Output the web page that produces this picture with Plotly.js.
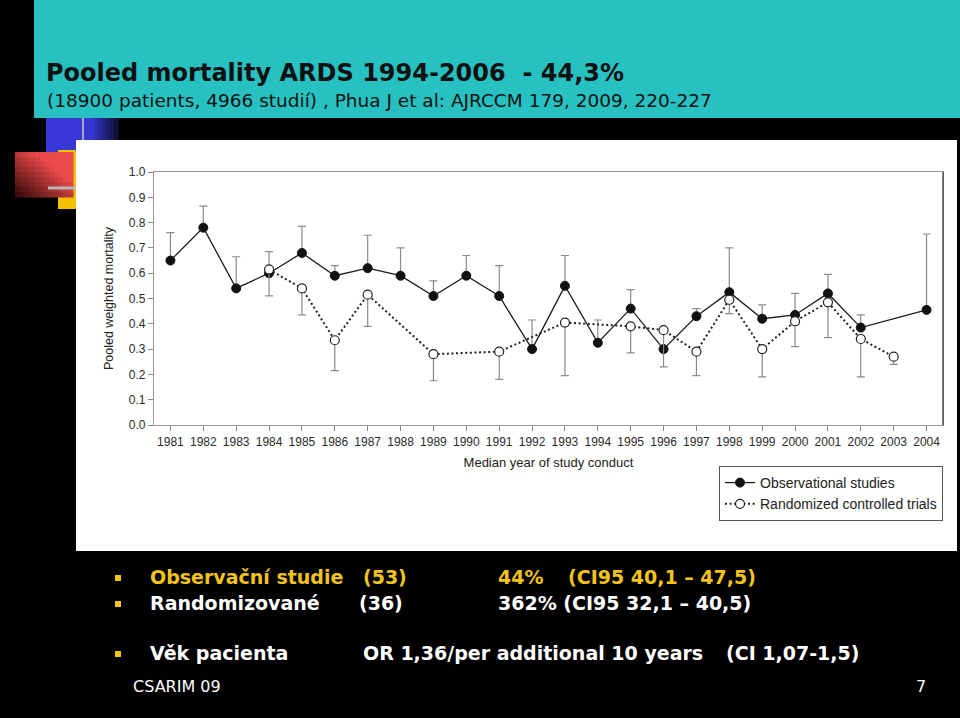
<!DOCTYPE html>
<html>
<head>
<meta charset="utf-8">
<script src="https://cdn.plot.ly/plotly-3.0.1.min.js"></script>
<style>
  html, body { margin: 0; padding: 0; background: #000; }
  #chart { width: 960px; height: 718px; }
</style>
</head>
<body>
<div id="chart"></div>
<script>
// ---------- Data ----------
const obsYears = [1981, 1982, 1983, 1984, 1985, 1986, 1987, 1988, 1989, 1990, 1991, 1992,
                  1993, 1994, 1995, 1996, 1997, 1998, 1999, 2000, 2001, 2002, 2004];
const obsMortality = [0.65, 0.78, 0.54, 0.60, 0.68, 0.59, 0.62, 0.59, 0.51, 0.59, 0.51, 0.30,
                      0.55, 0.325, 0.46, 0.30, 0.43, 0.525, 0.42, 0.435, 0.52, 0.385, 0.455];
const obsUpperCI = [0.76, 0.865, 0.665, 0.685, 0.785, 0.63, 0.75, 0.70, 0.57, 0.67, 0.63, 0.415,
                    0.67, 0.415, 0.535, 0.30, 0.46, 0.70, 0.475, 0.52, 0.595, 0.435, 0.755];

const rctYears = [1984, 1985, 1986, 1987, 1989, 1991, 1993, 1995, 1996, 1997, 1998, 1999,
                  2000, 2001, 2002, 2003];
const rctMortality = [0.615, 0.54, 0.335, 0.515, 0.28, 0.29, 0.405, 0.39, 0.375, 0.29, 0.495, 0.30,
                      0.41, 0.485, 0.34, 0.27];
const rctLowerCI = [0.51, 0.435, 0.215, 0.39, 0.175, 0.18, 0.195, 0.285, 0.23, 0.195, 0.44, 0.19,
                    0.31, 0.345, 0.19, 0.24];

const seriesNames = ['Observational studies', 'Randomized controlled trials'];
const yTickVals = [0, 0.1, 0.2, 0.3, 0.4, 0.5, 0.6, 0.7, 0.8, 0.9, 1.0];

const slideTitle = 'Pooled mortality ARDS 1994-2006\u00A0\u00A0- 44,3%';
const slideSubtitle = '(18900 patients, 4966 studi\u00ED) , Phua J et al: AJRCCM 179, 2009, 220-227';
const xAxisTitle = 'Median year of study conduct';
const yAxisTitle = 'Pooled weighted mortality';

// ---------- Helpers (pixel -> paper) ----------
const W = 960, H = 718;
const px = x => x / W;
const py = y => 1 - y / H;

function rect(x0, y0, x1, y1, color) {
  return {type: 'rect', xref: 'paper', yref: 'paper', layer: 'below',
          x0: px(x0), x1: px(x1), y0: py(y1), y1: py(y0),
          line: {width: 0}, fillcolor: color};
}
function lerp(a, b, t) { return a.map((v, i) => Math.round(v + (b[i] - v) * t)); }
function rgb(c) { return 'rgb(' + c.join(',') + ')'; }

const shapes = [];
// blue decorative block with fade to black on the right
{
  const x0 = 46, x1 = 118, y0 = 118, y1 = 160, n = 18;
  for (let i = 0; i < n; i++) {
    const a = x0 + (x1 - x0) * i / n, b = x0 + (x1 - x0) * (i + 1) / n + 0.5;
    const f = (a - x0) / (x1 - x0);
    const t = f < 0.6 ? 0 : (f - 0.6) / 0.4;
    shapes.push(rect(a, y0, b, y1, rgb(lerp([56, 56, 214], [10, 10, 30], t))));
  }
}
// yellow block
shapes.push(rect(58, 150, 77, 209, '#F2C200'));
// red block with diagonal darkening towards bottom-left
{
  const x0 = 15, x1 = 73, y0 = 152, y1 = 197, nx = 12, ny = 9;
  for (let i = 0; i < nx; i++) {
    for (let j = 0; j < ny; j++) {
      const fx = (i + 0.5) / nx, fy = (j + 0.5) / ny;
      let t = 0.75 * (1 - fy) + 0.75 * fx;
      t = Math.max(0, Math.min(1, t));
      const a = x0 + (x1 - x0) * i / nx, b = x0 + (x1 - x0) * (i + 1) / nx + 0.5;
      const c = y0 + (y1 - y0) * j / ny, d = y0 + (y1 - y0) * (j + 1) / ny + 0.5;
      shapes.push(rect(a, c, b, d, rgb(lerp([45, 6, 6], [236, 74, 74], t))));
    }
  }
}
// thin grey decorative lines
shapes.push({type: 'line', xref: 'paper', yref: 'paper', layer: 'below',
             x0: px(83), x1: px(83), y0: py(118), y1: py(142), line: {color: '#A8A8B8', width: 2}});
shapes.push({type: 'line', xref: 'paper', yref: 'paper', layer: 'below',
             x0: px(48), x1: px(76), y0: py(188), y1: py(188), line: {color: '#B8B8B8', width: 3}});
// white chart panel
shapes.push(rect(76, 140, 957, 551, '#FFFFFF'));
// teal header band
shapes.push(rect(34, 0, 960, 118, '#27C1C1'));
// darker right frame of the plot box
shapes.push({type: 'line', xref: 'x domain', yref: 'y domain', layer: 'above',
             x0: 1, x1: 1, y0: 0, y1: 1, line: {color: '#333333', width: 1.2}});

// ---------- Traces ----------
const traces = [
  {
    type: 'scatter', mode: 'lines+markers', name: seriesNames[0],
    x: obsYears, y: obsMortality,
    line: {color: '#1c1c1c', width: 1.3},
    marker: {symbol: 'circle', size: 9, color: '#111111', line: {color: '#111111', width: 1}},
    error_y: {type: 'data', symmetric: false,
              array: obsUpperCI.map((u, i) => u - obsMortality[i]),
              arrayminus: obsMortality.map(() => 0),
              color: '#8a8a8a', thickness: 1.2, width: 4}
  },
  {
    type: 'scatter', mode: 'lines+markers', name: seriesNames[1],
    x: rctYears, y: rctMortality,
    line: {color: '#222222', width: 2, dash: '2px,2.6px'},
    marker: {symbol: 'circle', size: 9, color: '#FFFFFF', line: {color: '#222222', width: 1.2}},
    error_y: {type: 'data', symmetric: false,
              array: rctMortality.map(() => 0),
              arrayminus: rctLowerCI.map((l, i) => rctMortality[i] - l),
              color: '#8a8a8a', thickness: 1.2, width: 4}
  }
];

// ---------- Slide text ----------
const bold = {family: 'DejaVu Sans', size: 19, weight: 'bold'};
function txt(text, x, y, color, font) {
  return {text: text, xref: 'paper', yref: 'paper', x: px(x), y: py(y),
          xanchor: 'left', yanchor: 'middle', showarrow: false,
          font: Object.assign({}, font, {color: color})};
}
const YEL = '#F2C41A', WHT = '#FFFFFF';
const annotations = [
  txt(slideSubtitle, 45, 101, '#111111', {family: 'DejaVu Sans', size: 18.5}),
  txt('Observa\u010Dn\u00ED studie', 148, 577, YEL, bold),
  txt('(53)', 361, 577, YEL, bold),
  txt('44%', 496, 577, YEL, bold),
  txt('(CI95 40,1 \u2013 47,5)', 566, 577, YEL, bold),
  txt('Randomizovan\u00E9', 148, 603, WHT, bold),
  txt('(36)', 357, 603, WHT, bold),
  txt('362% (CI95 32,1 \u2013 40,5)', 496, 603, WHT, bold),
  txt('V\u011Bk pacienta', 148, 653, WHT, bold),
  txt('OR 1,36/per additional 10 years', 361, 653, WHT, bold),
  txt('(CI 1,07-1,5)', 724, 653, WHT, bold),
  txt('CSARIM 09', 131, 686, WHT, {family: 'DejaVu Sans', size: 16}),
  txt('7', 914, 686, WHT, {family: 'DejaVu Sans', size: 16})
];
// bullet squares
[578, 604, 654].forEach(y => shapes.push(rect(115, y - 3, 121, y + 3, '#F2C41A')));

// ---------- Layout ----------
const axisFont = {family: 'Liberation Sans, Arial, sans-serif', size: 12, color: '#2a2a2a'};
const layout = {
  width: W, height: H, autosize: false,
  margin: {l: 0, r: 0, t: 0, b: 0, pad: 0},
  paper_bgcolor: '#000000', plot_bgcolor: '#FFFFFF',
  title: {text: slideTitle, x: px(46), xanchor: 'left', xref: 'paper',
          y: py(73), yanchor: 'middle', yref: 'paper',
          font: {family: 'DejaVu Sans', size: 24, weight: 'bold', color: '#111111'}},
  xaxis: {
    domain: [px(154), px(943)], range: [1980.5, 2004.5],
    dtick: 1, tick0: 1981, tickformat: 'd',
    showgrid: false, zeroline: false,
    showline: true, linecolor: '#9a9a9a', linewidth: 1.2, mirror: true,
    ticks: 'outside', ticklen: 5, tickcolor: '#8a8a8a', tickwidth: 1,
    tickfont: axisFont,
    title: {text: xAxisTitle, standoff: 10,
            font: {family: 'Liberation Sans, Arial, sans-serif', size: 13, color: '#222'}}
  },
  yaxis: {
    domain: [py(425), py(172)], range: [0, 1],
    tickvals: yTickVals, tickformat: '.1f',
    showgrid: false, zeroline: false,
    showline: true, linecolor: '#9a9a9a', linewidth: 1.2, mirror: true,
    ticks: 'outside', ticklen: 5, tickcolor: '#8a8a8a', tickwidth: 1,
    tickfont: axisFont,
    title: {text: yAxisTitle, standoff: 12,
            font: {family: 'Liberation Sans, Arial, sans-serif', size: 12.5, color: '#222'}}
  },
  showlegend: true,
  legend: {x: px(943), xanchor: 'right', y: py(466), yanchor: 'top',
           xref: 'paper', yref: 'paper',
           bgcolor: '#FFFFFF', bordercolor: '#555555', borderwidth: 1,
           font: {family: 'Liberation Sans, Arial, sans-serif', size: 14, color: '#222'},
           tracegroupgap: 0, itemwidth: 30},
  shapes: shapes,
  annotations: annotations
};

Plotly.newPlot('chart', traces, layout, {displayModeBar: false, staticPlot: true});
</script>
</body>
</html>
